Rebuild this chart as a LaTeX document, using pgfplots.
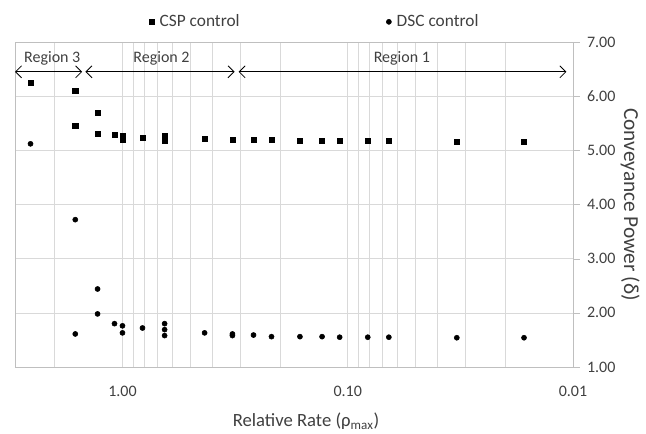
\documentclass[border=0pt]{standalone}
\usepackage{pgfplots}
\pgfplotsset{compat=1.18}
\usepackage{fontspec}
\setmainfont{Carlito}
\usetikzlibrary{arrows.meta}
\definecolor{txt}{HTML}{404040}
\definecolor{gridc}{HTML}{D9D9D9}
\definecolor{axc}{HTML}{BFBFBF}

% x = relative rate, y = conveyance power
\pgfplotstableread{
x y
2.56 6.24
1.62 6.10
1.62 5.45
1.29 5.69
1.29 5.30
1.085 5.28
1.00 5.27
1.00 5.20
0.815 5.23
0.65 5.26
0.65 5.21
0.65 5.17
0.432 5.21
0.325 5.19
0.262 5.19
0.218 5.19
0.163 5.18
0.130 5.18
0.1086 5.17
0.0815 5.17
0.0657 5.17
0.0328 5.16
0.0165 5.16
}\csp

\pgfplotstableread{
x y
2.56 5.12
1.62 3.72
1.62 1.61
1.29 2.44
1.29 1.98
1.085 1.80
1.00 1.76
1.00 1.63
0.815 1.72
0.65 1.80
0.65 1.69
0.65 1.58
0.432 1.63
0.325 1.61
0.325 1.58
0.262 1.59
0.218 1.56
0.163 1.56
0.130 1.56
0.1086 1.55
0.0815 1.55
0.0657 1.55
0.0328 1.54
0.0165 1.54
}\dsc

\begin{document}
\begin{tikzpicture}
\begin{axis}[
  width=418.5pt, height=243.75pt, scale only axis,
  xmode=log, log basis x=10, x dir=reverse,
  xmin=0.01, xmax=3, ymin=1, ymax=7,
  xtick={0.01,0.1,1}, xticklabels={0.01,0.10,1.00},
  minor xtick={0.02,0.03,0.04,0.05,0.06,0.07,0.08,0.09,
               0.2,0.3,0.4,0.5,0.6,0.7,0.8,0.9,2},
  ytick={1,2,3,4,5,6,7},
  yticklabel={\pgfmathprintnumber[fixed,fixed zerofill,precision=2]{\tick}},
  axis lines=box,
  axis line style={draw=axc},
  ytick pos=right, yticklabel pos=right,
  xtick pos=bottom,
  major x tick style={draw=none}, minor x tick style={draw=none},
  major y tick style={draw=axc},
  tick align=outside, major tick length=5pt,
  xmajorgrids, xminorgrids, ymajorgrids,
  grid style={draw=gridc},
  minor grid style={draw=gridc},
  tick label style={font=\fontsize{12}{14}\selectfont, text=txt},
  /pgf/number format/assume math mode=true,
  xticklabel style={yshift=-6pt},
  yticklabel style={xshift=2pt},
  xlabel={Relative Rate (ρ\textsubscript{max})},
  ylabel={Conveyance Power (δ)},
  xlabel style={font=\fontsize{14}{17}\selectfont, text=txt,
    xshift=9pt, yshift=-5pt},
  ylabel style={font=\fontsize{16}{19}\selectfont, text=txt, rotate=180, yshift=-3pt},
  legend columns=2,
  legend style={draw=none, fill=none, at={(0.538,1.062)}, anchor=center,
    font=\fontsize{13}{15}\selectfont, text=txt,
    /tikz/every odd column/.append style={column sep=2pt},
    /tikz/every even column/.append style={column sep=108pt}},
  legend image code/.code={\draw[#1] plot coordinates {(0.15cm,0cm)};},
  clip=false,
]
\addplot[only marks, mark=square*, mark size=1.9pt, black] table[x=x,y=y]{\csp};
\addlegendentry{CSP control}
\addplot[only marks, mark=*, mark size=1.9pt, black] table[x=x,y=y]{\dsc};
\addlegendentry{DSC control}

\draw[{Straight Barb[length=4.5pt]}-{Straight Barb[length=4.5pt]}, semithick, black]
  (axis cs:3,6.45) -- (axis cs:1.51,6.45);
\draw[{Straight Barb[length=4.5pt]}-{Straight Barb[length=4.5pt]}, semithick, black]
  (axis cs:1.46,6.45) -- (axis cs:0.318,6.45);
\draw[{Straight Barb[length=4.5pt]}-{Straight Barb[length=4.5pt]}, semithick, black]
  (axis cs:0.305,6.45) -- (axis cs:0.0107,6.45);
\node[font=\fontsize{12}{14}\selectfont, text=txt] at (axis cs:2.05,6.70) {Region 3};
\node[font=\fontsize{12}{14}\selectfont, text=txt] at (axis cs:0.671,6.70) {Region 2};
\node[font=\fontsize{12}{14}\selectfont, text=txt] at (axis cs:0.0575,6.70) {Region 1};

% margins as in the reference
\path (rel axis cs:0,0) ++(-11.25pt,-45.75pt) (rel axis cs:1,1) ++(54.75pt,31.5pt);
\end{axis}
\end{tikzpicture}
\end{document}
